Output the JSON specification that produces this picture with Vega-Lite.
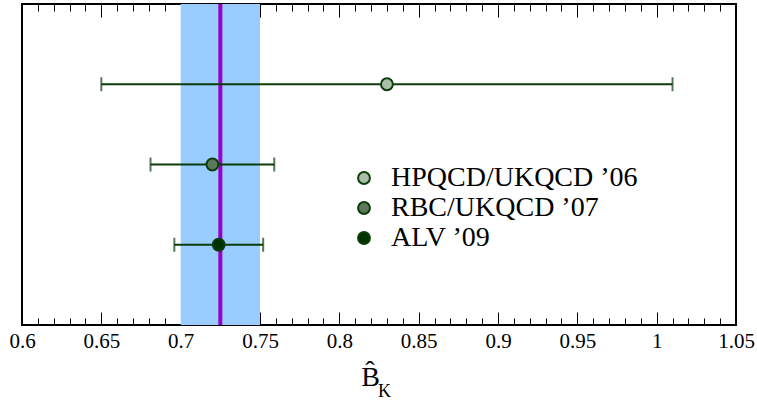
{
  "$schema": "https://vega.github.io/schema/vega-lite/v6.json",
  "autosize": {"type": "none"},
  "padding": {"left": 22, "top": 4, "right": 21, "bottom": 77},
  "width": 714,
  "height": 321,
  "background": "white",
  "config": {
    "font": "Liberation Serif",
    "view": {"stroke": "black", "strokeWidth": 2},
    "axis": {"domain": false, "grid": false, "tickColor": "black", "tickWidth": 1, "labelFont": "Liberation Serif", "labelColor": "black", "titleFont": "Liberation Serif", "titleColor": "black", "titleFontWeight": "normal"},
    "axisBottom": {"labelFont": "Liberation Serif", "titleFont": "Liberation Serif"}
  },
  "datasets": {
    "pts": [
      {"name": "HPQCD/UKQCD ’06", "x": 0.83, "lo": 0.65, "hi": 1.01, "y": 3},
      {"name": "RBC/UKQCD ’07", "x": 0.72, "lo": 0.681, "hi": 0.759, "y": 2},
      {"name": "ALV ’09", "x": 0.724, "lo": 0.696, "hi": 0.752, "y": 1}
    ],
    "band": [{"lo": 0.70, "hi": 0.75, "c": 0.725}],
    "sub": [{"t": "K", "x": 0.8285, "y": -0.9}]
  },
  "resolve": {"axis": {"x": "independent", "y": "independent"}},
  "layer": [
    {
      "data": {"name": "band"},
      "mark": {"type": "rect", "color": "#99ccff", "opacity": 1},
      "encoding": {
        "x": {"field": "lo", "type": "quantitative", "scale": {"domain": [0.6, 1.05], "nice": false, "zero": false},
          "axis": {"orient": "bottom", "values": [0.6, 0.65, 0.7, 0.75, 0.8, 0.85, 0.9, 0.95, 1, 1.05], "tickSize": -13, "format": "~g", "labelFont": "Liberation Serif", "labelFontSize": 21, "labelPadding": 18, "labelFlush": false, "labelOverlap": false, "title": "B̂", "titleFont": "Liberation Serif", "titleFontSize": 28, "titleX": 348, "titleY": 60, "titleBaseline": "alphabetic", "titleAnchor": "start", "titleAlign": "center"}},
        "x2": {"field": "hi"}
      }
    },
    {
      "data": {"name": "band"},
      "mark": {"type": "rule", "color": "#9900cc", "strokeWidth": 4},
      "encoding": {
        "x": {"field": "c", "type": "quantitative",
          "axis": {"orient": "bottom", "values": [0.61,0.62,0.63,0.64,0.66,0.67,0.68,0.69,0.71,0.72,0.73,0.74,0.76,0.77,0.78,0.79,0.81,0.82,0.83,0.84,0.86,0.87,0.88,0.89,0.91,0.92,0.93,0.94,0.96,0.97,0.98,0.99,1.01,1.02,1.03,1.04], "tickSize": -7, "labels": false, "title": null}}
      }
    },
    {
      "data": {"name": "pts"},
      "mark": {"type": "errorbar", "color": "#0b3d0b", "thickness": 2, "ticks": {"size": 14, "thickness": 2, "color": "#0b3d0b"}},
      "encoding": {
        "x": {"field": "lo", "type": "quantitative",
          "axis": {"orient": "top", "values": [0.6, 0.65, 0.7, 0.75, 0.8, 0.85, 0.9, 0.95, 1, 1.05], "tickSize": -13, "labels": false, "title": null}},
        "x2": {"field": "hi"},
        "y": {"field": "y", "type": "quantitative", "scale": {"domain": [0, 4], "nice": false, "zero": false}, "axis": null}
      }
    },
    {
      "data": {"name": "pts"},
      "mark": {"type": "point", "filled": true, "shape": "circle", "size": 140, "stroke": "#0b3d0b", "strokeWidth": 2, "opacity": 1},
      "encoding": {
        "x": {"field": "x", "type": "quantitative",
          "axis": {"orient": "top", "values": [0.61,0.62,0.63,0.64,0.66,0.67,0.68,0.69,0.71,0.72,0.73,0.74,0.76,0.77,0.78,0.79,0.81,0.82,0.83,0.84,0.86,0.87,0.88,0.89,0.91,0.92,0.93,0.94,0.96,0.97,0.98,0.99,1.01,1.02,1.03,1.04], "tickSize": -7, "labels": false, "title": null}},
        "y": {"field": "y", "type": "quantitative", "axis": null},
        "color": {"field": "name", "type": "nominal",
          "scale": {"domain": ["HPQCD/UKQCD ’06", "RBC/UKQCD ’07", "ALV ’09"], "range": ["#a9bfa9", "#5a7a5a", "#003300"]},
          "legend": {"title": null, "orient": "none", "legendX": 328, "legendY": 160, "labelFont": "Liberation Serif", "labelFontSize": 28, "labelColor": "black", "labelLimit": 0, "symbolSize": 140, "symbolStrokeColor": "#0b3d0b", "symbolStrokeWidth": 2, "symbolType": "circle", "rowPadding": 2, "labelOffset": 13, "padding": 0}}
      }
    },
    {
      "data": {"name": "sub"},
      "mark": {"type": "text", "font": "Liberation Serif", "fontSize": 18, "color": "black", "baseline": "alphabetic", "align": "center", "clip": false},
      "encoding": {
        "x": {"field": "x", "type": "quantitative", "axis": null},
        "y": {"field": "y", "type": "quantitative", "axis": null},
        "text": {"field": "t"}
      }
    }
  ]
}
